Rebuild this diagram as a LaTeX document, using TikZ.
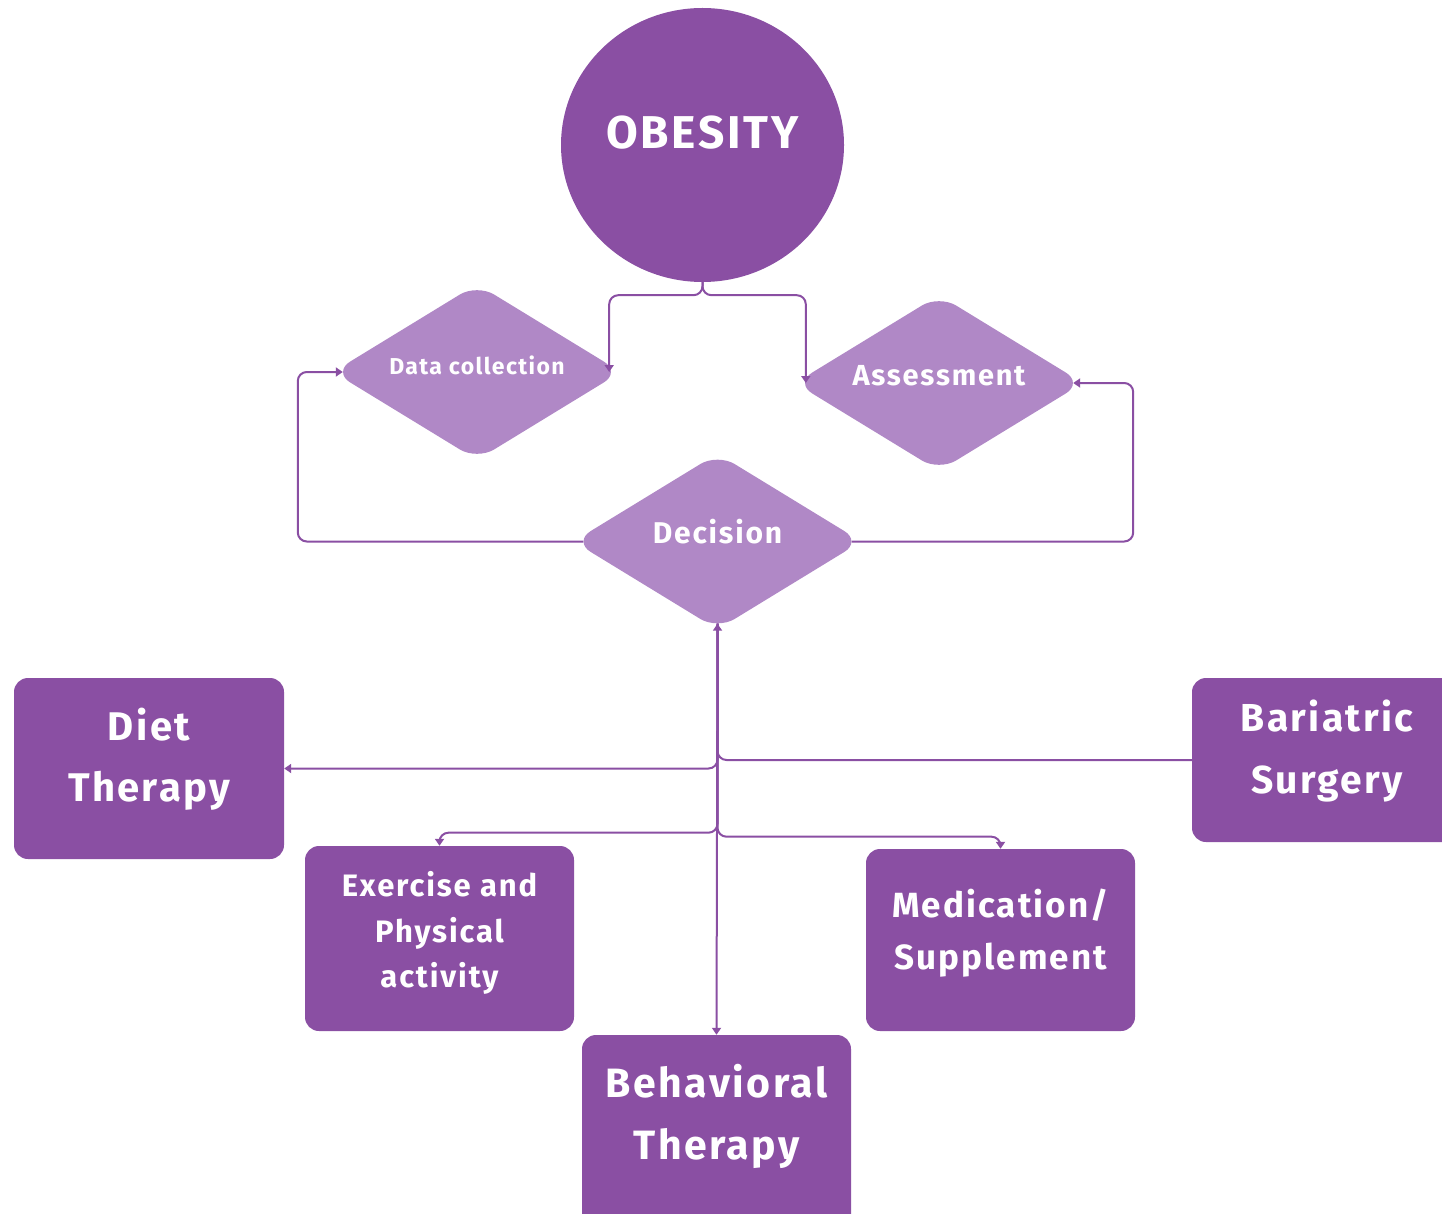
\documentclass[tikz,border=0pt]{standalone}
\usepackage{fontspec}
\setmainfont[LetterSpace=6]{Fira Sans}
\usetikzlibrary{shapes.geometric,arrows.meta}
\definecolor{dk}{RGB}{138,79,163}
\definecolor{lt}{RGB}{176,136,198}
\newcommand{\lines}[2]{\smash{\raisebox{#1}{\begin{tabular}{@{}c@{}}#2\end{tabular}}}}
\begin{document}
\begin{tikzpicture}[x=1pt,y=-1pt,
  box/.style={fill=dk, rounded corners=14pt, text=white, align=center, inner sep=0pt},
  dmd/.style={diamond, fill=lt, rounded corners=20pt, text=white, inner sep=0pt,
              minimum width=288pt, minimum height=176pt},
  conn/.style={draw=dk, line width=2pt, rounded corners=9pt},
  arr/.style={conn, -{Triangle[length=7pt,width=9pt]}},
  fs/.style n args={2}{font=\bfseries\fontsize{#1}{#2}\selectfont}
]
\useasboundingbox (0,0) rectangle (1442,1214);
\clip (0,0) rectangle (1442,1214);

% top circle
\node[ellipse, fill=dk, minimum width=283pt, minimum height=274pt, inner sep=0pt,
      text=white, fs={46}{50}] (ob) at (702.5,145) {\smash{\raisebox{-4pt}{OBESITY}}};

% diamonds
\node[dmd, fs={23}{26}] (dc) at (477,372) {\smash{\raisebox{-2pt}{Data collection}}};
\node[dmd, fs={29}{32}] (as) at (939,383) {\smash{\raisebox{-2pt}{Assessment}}};
\node[dmd, fs={30}{33}] (dec) at (717.5,541.5) {\smash{\raisebox{-2pt}{Decision}}};
\coordinate (decb) at ([yshift=6pt]dec.south);

% boxes
\node[box, minimum width=270pt, minimum height=181pt, fs={40}{61}] (diet) at (149,768.5) {\lines{3pt}{Diet\\Therapy}};
\node[box, minimum width=269pt, minimum height=185pt, fs={31}{45.5}] (ex) at (439.5,938.5) {\lines{-1pt}{Exercise and\\Physical\\activity}};
\node[box, minimum width=269pt, minimum height=182pt, fs={35}{52}] (med) at (1000.5,940) {\lines{1pt}{Medication/\\Supplement}};
\node[box, minimum width=270pt, minimum height=164pt, fs={39}{62}] (bar) at (1327,760) {\lines{4pt}{Bariatric\\Surgery}};
\node[box, minimum width=269pt, minimum height=200pt, fs={41}{62}] (beh) at (716.5,1135) {\lines{13pt}{Behavioral\\Therapy}};

% connectors from OBESITY
\draw[arr] (ob.south) -- ++(0,13) -| ([xshift=-12pt]dc.east);
\draw[arr] (ob.south) -- ++(0,13) -| ([xshift=11pt]as.west);

% feedback loops
\draw[arr] ([xshift=10pt]dec.west) -| ([xshift=-35pt]dc.west) -- ([xshift=10pt]dc.west);
\draw[arr] ([xshift=-10pt]dec.east) -| ([xshift=50pt]as.east) -- ([xshift=-10pt]as.east);

% decision outcomes
\draw[arr] (decb) |- (diet.east);
\draw[arr] (decb) -- ++(0,209) -| (ex.north);
\draw[arr] (decb) -- ++(0,213) -| (med.north);
\draw[arr] (decb) -- (beh.north);
\draw[arr] (bar.west) -| (decb);
\end{tikzpicture}
\end{document}
